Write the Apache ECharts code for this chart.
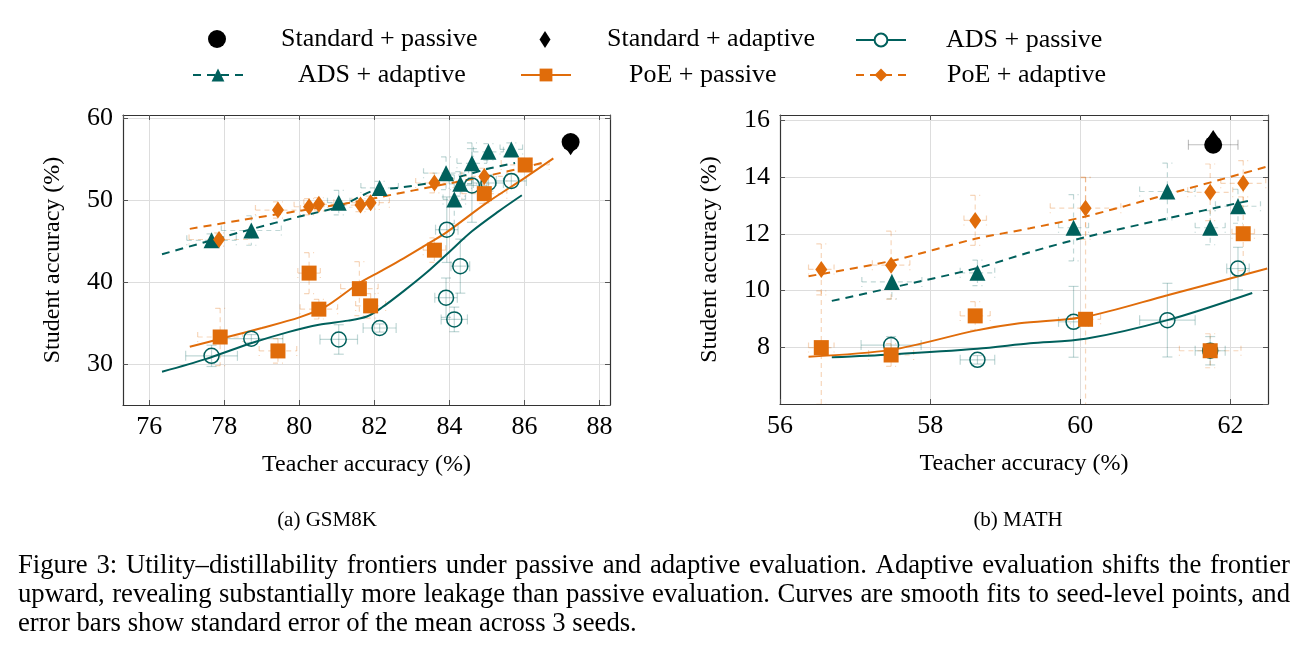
<!DOCTYPE html>
<html>
<head>
<meta charset="utf-8">
<script src="https://cdn.jsdelivr.net/npm/echarts@6/dist/echarts.min.js"></script>
<style>
  html, body { margin: 0; padding: 0; background: #fff; }
  #chart { width: 1306px; height: 654px; }
</style>
</head>
<body>
<div id="chart"></div>
<script>
// points: [teacher acc, student acc, x std err, y std err]
const gsmStdPassive = [[87.23, 57.1, 0.2, 0.4]]
const gsmStdAdaptive = [[87.23, 56.6, 0.2, 0.4]]
const gsmAdsPassive = [
  [77.66, 31.0, 0.69, 1.3], [78.72, 33.1, 0.84, 0.5], [81.05, 33.0, 0.5, 1.8], [82.14, 34.4, 0.44, 0.5],
  [83.93, 46.4, 0.3, 4.0], [84.29, 41.95, 0.25, 3.3], [83.91, 38.1, 0.3, 2.4], [84.13, 35.45, 0.35, 1.5],
  [84.6, 51.8, 0.4, 4.5], [85.04, 52.1, 0.4, 1.0], [85.65, 52.35, 0.4, 0.8]
]
const gsmAdsAdaptive = [
  [77.66, 45.1, 0.66, 0.8], [78.72, 46.3, 0.8, 1.8], [81.05, 49.7, 0.3, 1.5], [82.14, 51.5, 0.5, 0.8],
  [83.91, 53.3, 0.6, 2.0], [84.13, 50.1, 0.3, 3.0], [84.29, 52.0, 0.3, 1.5], [84.6, 54.5, 0.4, 2.5],
  [85.04, 55.9, 0.4, 1.0], [85.65, 56.2, 0.3, 0.8]
]
const gsmPoePassive = [
  [77.89, 33.3, 0.6, 3.5], [79.43, 31.6, 0.5, 1.5], [80.26, 41.1, 0.3, 2.5], [80.52, 36.7, 0.5, 1.2],
  [81.6, 39.2, 0.5, 3.3], [81.9, 37.1, 0.4, 1.5], [83.6, 43.9, 0.3, 1.5], [84.93, 50.8, 0.6, 1.2],
  [86.02, 54.3, 0.64, 0.8]
]
const gsmPoeAdaptive = [
  [77.86, 45.2, 0.8, 0.8], [79.43, 48.8, 0.6, 1.0], [80.26, 49.2, 0.4, 1.0], [80.52, 49.5, 0.4, 0.8],
  [81.63, 49.4, 0.5, 0.8], [81.9, 49.7, 0.5, 0.8], [83.6, 52.1, 0.5, 1.2], [84.93, 52.9, 0.6, 1.0]
]
// smooth fits
const gsmAdsPassiveFit = [[76.34, 29.06], [77.5, 30.6], [78.75, 32.6], [79.7, 33.9], [80.52, 34.8], [81.3, 35.3], [81.8, 35.8], [82.2, 36.9], [82.78, 38.9], [83.4, 41.2], [83.93, 43.4], [84.6, 46.2], [85.3, 48.6], [85.93, 50.6]]
const gsmAdsAdaptiveFit = [[76.34, 43.4], [77.5, 44.9], [78.75, 46.5], [80, 48.0], [81.05, 49.2], [81.6, 50.4], [82.0, 51.2], [82.6, 51.5], [83.5, 52.1], [84.3, 52.9], [85, 53.8], [85.75, 54.55]]
const gsmPoePassiveFit = [[77.08, 32.1], [78, 33.2], [79, 34.4], [80, 35.7], [80.7, 37.0], [81.57, 39.8], [82.2, 41.4], [82.78, 42.9], [83.4, 44.6], [83.93, 46.1], [85, 49.7], [86, 52.7], [86.77, 55.1]]
const gsmPoeAdaptiveFit = [[77.08, 46.5], [78.5, 47.6], [80, 48.7], [81.5, 49.8], [82.5, 50.7], [83.6, 51.7], [84.93, 52.9], [86.0, 54.0], [86.5, 54.6]]

const mathStdPassive = [[61.77, 15.15, 0.33, 0.2]]
const mathStdAdaptive = [[61.77, 15.35, 0.33, 0.2]]
const mathAdsPassive = [
  [57.48, 8.08, 0.4, 0.3], [58.63, 7.56, 0.23, 0.15], [59.91, 8.9, 0.2, 1.25], [61.16, 8.96, 0.37, 1.3],
  [62.1, 10.78, 0.15, 0.75], [61.73, 7.88, 0.2, 0.5]
]
const mathAdsAdaptive = [
  [57.49, 10.31, 0.4, 0.6], [58.63, 10.63, 0.23, 0.45], [59.91, 12.22, 0.2, 1.17], [61.16, 13.5, 0.37, 1.0],
  [61.73, 12.22, 0.2, 0.6], [62.1, 12.98, 0.3, 0.6]
]
const mathPoePassive = [
  [56.55, 7.99, 0.17, 2.0], [57.48, 7.73, 0.3, 0.4], [58.6, 9.11, 0.2, 0.5], [60.07, 8.99, 0.2, 5.0],
  [61.73, 7.88, 0.41, 0.6], [62.17, 12.01, 0.15, 1.3]
]
const mathPoeAdaptive = [
  [56.55, 10.75, 0.17, 0.9], [57.48, 10.9, 0.25, 1.2], [58.6, 12.48, 0.15, 0.88], [60.07, 12.91, 0.47, 1.1],
  [61.73, 13.47, 0.3, 1.0], [62.17, 13.79, 0.3, 0.8]
]
const mathAdsPassiveFit = [[56.69, 7.65], [57.48, 7.75], [58.63, 7.95], [59.33, 8.14], [60.07, 8.3], [61.16, 8.96], [62.29, 9.92]]
const mathAdsAdaptiveFit = [[56.69, 9.64], [57.48, 10.1], [58.63, 10.8], [59.33, 11.36], [60.07, 11.89], [61.16, 12.55], [62.29, 13.2]]
const mathPoePassiveFit = [[56.38, 7.67], [57.48, 7.91], [58.6, 8.59], [59.19, 8.85], [60.07, 9.08], [61.16, 9.84], [62.49, 10.78]]
const mathPoeAdaptiveFit = [[56.38, 10.51], [57.48, 11.05], [58.6, 11.83], [59.33, 12.2], [60.07, 12.62], [61.16, 13.4], [62.49, 14.38]]

const subCaptions = ['(a) GSM8K', '(b) MATH']
const captionLines = [
  'Figure 3: Utility–distillability frontiers under passive and adaptive evaluation. Adaptive evaluation shifts the frontier',
  'upward, revealing substantially more leakage than passive evaluation. Curves are smooth fits to seed-level points, and',
  'error bars show standard error of the mean across 3 seeds.'
]

const TEAL = '#00605c'
const ORANGE = '#e06c0a'
const FONT = '"Liberation Serif", "DejaVu Serif", serif'

const chart = echarts.init(document.getElementById('chart'))

function errorBars(name, gi, pts, stroke, dashed) {
  return {
    name, type: 'custom', xAxisIndex: gi * 2, yAxisIndex: gi * 2, data: pts, clip: true, z: 1, silent: true,
    encode: {x: 0, y: 1},
    renderItem: function (params, api) {
      const x = api.value(0), y = api.value(1), xe = api.value(2), ye = api.value(3)
      const l = api.coord([x - xe, y]), r = api.coord([x + xe, y])
      const t = api.coord([x, y + ye]), b = api.coord([x, y - ye])
      const c = 5
      const style = {stroke, lineWidth: 1.2, lineDash: dashed ? [5, 4] : null}
      const seg = (x1, y1, x2, y2) => ({type: 'line', shape: {x1, y1, x2, y2}, style})
      return {
        type: 'group', children: [
          seg(l[0], l[1], r[0], r[1]), seg(l[0], l[1] - c, l[0], l[1] + c), seg(r[0], r[1] - c, r[0], r[1] + c),
          seg(t[0], t[1], b[0], b[1]), seg(t[0] - c, t[1], t[0] + c, t[1]), seg(b[0] - c, b[1], b[0] + c, b[1])
        ]
      }
    }
  }
}

function fit(name, gi, data, color, dashed, symbol) {
  return {
    name, type: 'line', xAxisIndex: gi * 2, yAxisIndex: gi * 2, data, smooth: 0.3, showSymbol: false,
    symbol, symbolSize: 12, lineStyle: {color, width: 2, type: dashed ? [8, 6] : 'solid'},
    itemStyle: {color, opacity: 1}, z: 3, silent: true
  }
}

function marks(name, gi, pts, symbol, size, style, z) {
  return {
    name, type: 'scatter', xAxisIndex: gi * 2, yAxisIndex: gi * 2, data: pts.map(p => [p[0], p[1]]),
    symbol, symbolSize: size, itemStyle: Object.assign({opacity: 1}, style), z: z || 4, silent: true
  }
}

function group(gi, d) {
  return [
    fit('ADS + passive', gi, d.adsPFit, TEAL, false, 'emptyCircle'),
    fit('ADS + adaptive', gi, d.adsAFit, TEAL, true, 'triangle'),
    fit('PoE + passive', gi, d.poePFit, ORANGE, false, 'rect'),
    fit('PoE + adaptive', gi, d.poeAFit, ORANGE, true, 'diamond'),
    marks('Standard + passive', gi, d.stdP, 'circle', 18, {color: '#000'}, 6),
    marks('Standard + adaptive', gi, d.stdA, 'diamond', [12, 18], {color: '#000'}, 5),
    errorBars('ADS + passive', gi, d.adsP, 'rgba(0,96,92,0.25)', false),
    errorBars('ADS + adaptive', gi, d.adsA, 'rgba(0,96,92,0.25)', true),
    errorBars('PoE + passive', gi, d.poeP, 'rgba(224,108,10,0.28)', true),
    errorBars('PoE + adaptive', gi, d.poeA, 'rgba(224,108,10,0.28)', true),
    errorBars('Standard + passive', gi, d.stdP, 'rgba(0,0,0,0.25)', false),
    marks('ADS + passive', gi, d.adsP, 'circle', 15, {color: 'rgba(255,255,255,0)', borderColor: TEAL, borderWidth: 1.5}),
    marks('ADS + adaptive', gi, d.adsA, 'triangle', 16, {color: TEAL}),
    marks('PoE + passive', gi, d.poeP, 'rect', 15, {color: ORANGE}),
    marks('PoE + adaptive', gi, d.poeA, 'diamond', [12, 17], {color: ORANGE})
  ]
}

function axisPair(gi, xr, yr, xSplit, ySplit, showMinX) {
  const common = {
    axisLine: {show: true, lineStyle: {color: '#333', width: 1.2}},
    axisTick: {show: true, inside: true, length: 5, lineStyle: {color: '#555'}},
    splitLine: {show: true, lineStyle: {color: '#dddddd', width: 1}}
  }
  const label = {color: '#000', fontFamily: FONT, fontSize: 26}
  const name = {color: '#000', fontFamily: FONT, fontSize: 24}
  return {
    x: [
      Object.assign({
        type: 'value', gridIndex: gi, min: xr[0], max: xr[1], splitNumber: xSplit, position: 'bottom',
        name: 'Teacher accuracy (%)', nameLocation: 'middle', nameGap: 48, nameTextStyle: name,
        axisLabel: Object.assign({margin: 9, showMinLabel: showMinX, showMaxLabel: false}, label)
      }, common),
      Object.assign({
        type: 'value', gridIndex: gi, min: xr[0], max: xr[1], splitNumber: xSplit, position: 'top',
        axisLabel: {show: false}
      }, common, {splitLine: {show: false}})
    ],
    y: [
      Object.assign({
        type: 'value', gridIndex: gi, min: yr[0], max: yr[1], splitNumber: ySplit, position: 'left',
        name: 'Student accuracy (%)', nameLocation: 'middle', nameGap: 58, nameTextStyle: name,
        axisLabel: Object.assign({margin: 10, showMinLabel: false, showMaxLabel: false}, label)
      }, common),
      Object.assign({
        type: 'value', gridIndex: gi, min: yr[0], max: yr[1], splitNumber: ySplit, position: 'right',
        axisLabel: {show: false}
      }, common, {splitLine: {show: false}})
    ]
  }
}

const ax0 = axisPair(0, [75.3, 88.28], [25, 60.4], 6, 4, false)
const ax1 = axisPair(1, [56, 62.5], [6, 16.2], 3, 5, true)

function legendItem(name, left, top, w, h, pad) {
  return {
    data: [name], left, top, itemWidth: w, itemHeight: h, padding: 0,
    textStyle: {color: '#000', fontFamily: FONT, fontSize: 26, padding: [0, 0, 0, pad]}
  }
}

// caption text: justify the first two lines like the LaTeX paragraph
const measure = document.createElement('canvas').getContext('2d')
function widthOf(s, size) {
  measure.font = size + 'px "Liberation Serif"'
  return measure.measureText(s).width
}
const capSize = 24 * 619 / widthOf(captionLines[2], 24)
const graphics = []
captionLines.forEach((line, i) => {
  const words = line.split(' ')
  const total = words.reduce((s, w) => s + widthOf(w, capSize), 0)
  const gap = i < 2 ? (1272 - total) / (words.length - 1) : widthOf(' ', capSize)
  let x = 18
  words.forEach(w => {
    graphics.push({
      type: 'text', x, y: 566 + i * 29, silent: true,
      style: {text: w, fontSize: capSize, fontFamily: FONT, fill: '#000', textAlign: 'left', textVerticalAlign: 'middle', align: 'left', verticalAlign: 'middle'}
    })
    x += widthOf(w, capSize) + gap
  })
})
subCaptions.forEach((s, i) => {
  graphics.push({
    type: 'text', x: [327, 1018][i], y: 520, silent: true,
    style: {text: s, fontSize: 21, fontFamily: FONT, fill: '#000', textAlign: 'center', textVerticalAlign: 'middle', align: 'center', verticalAlign: 'middle'}
  })
})

const option = {
  animation: false,
  grid: [
    {left: 123, top: 115, width: 487, height: 290},
    {left: 780, top: 115, width: 488, height: 289}
  ],
  xAxis: [ax0.x[0], ax0.x[1], ax1.x[0], ax1.x[1]],
  yAxis: [ax0.y[0], ax0.y[1], ax1.y[0], ax1.y[1]],
  legend: [
    legendItem('Standard + passive', 208, 26, 18, 18, 50),
    legendItem('Standard + adaptive', 539.5, 26.5, 11, 17, 51.5),
    legendItem('ADS + passive', 855, 27, 50, 16, 35),
    legendItem('ADS + adaptive', 192, 62, 50, 16, 50),
    legendItem('PoE + passive', 520, 62, 50, 16, 53),
    legendItem('PoE + adaptive', 855, 62, 50, 16, 36)
  ],
  graphic: graphics,
  series: [].concat(
    group(0, {
      stdP: gsmStdPassive, stdA: gsmStdAdaptive, adsP: gsmAdsPassive, adsA: gsmAdsAdaptive,
      poeP: gsmPoePassive, poeA: gsmPoeAdaptive, adsPFit: gsmAdsPassiveFit, adsAFit: gsmAdsAdaptiveFit,
      poePFit: gsmPoePassiveFit, poeAFit: gsmPoeAdaptiveFit
    }),
    group(1, {
      stdP: mathStdPassive, stdA: mathStdAdaptive, adsP: mathAdsPassive, adsA: mathAdsAdaptive,
      poeP: mathPoePassive, poeA: mathPoeAdaptive, adsPFit: mathAdsPassiveFit, adsAFit: mathAdsAdaptiveFit,
      poePFit: mathPoePassiveFit, poeAFit: mathPoeAdaptiveFit
    })
  )
}
chart.setOption(option)
</script>
</body>
</html>
